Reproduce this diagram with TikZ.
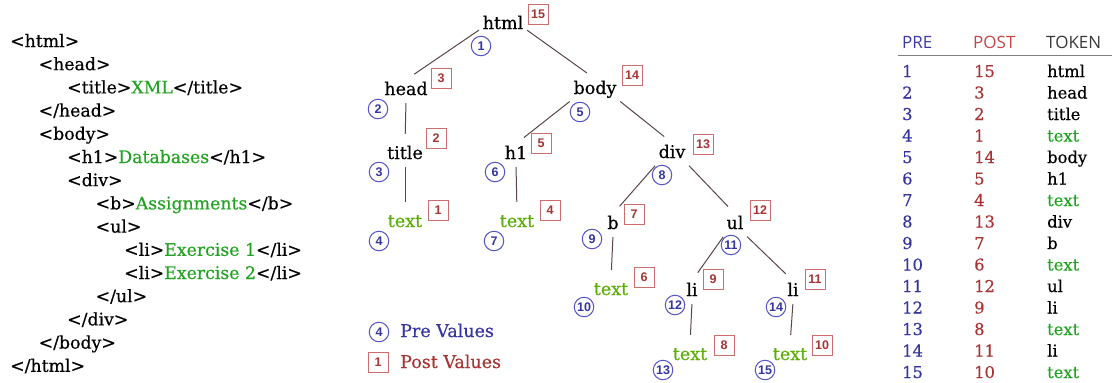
\documentclass[tikz,border=0pt]{standalone}
\usepackage{fontspec}
\setmainfont{DejaVu Serif}[FakeBold=0.4]
\setsansfont{Open Sans}
\newfontfamily\numfont{Liberation Sans}
\definecolor{preblue}{HTML}{3535A0}
\definecolor{prering}{HTML}{5555C8}
\definecolor{postred}{HTML}{A83434}
\definecolor{postline}{HTML}{CC6E6E}
\definecolor{codegreen}{HTML}{22A322}
\definecolor{treegreen}{HTML}{5DAE05}
\definecolor{edgecol}{HTML}{5A4646}
\definecolor{hdrblue}{HTML}{3C3CA8}
\definecolor{hdrred}{HTML}{C24848}
\definecolor{hdrgrey}{HTML}{3A3A3A}
\begin{document}
\begin{tikzpicture}[x=1pt,y=-1pt,
  code/.style={font=\fontsize{17.3}{17.3}\selectfont, inner sep=0pt, anchor=base west},
  tn/.style={font=\fontsize{17.5}{17.5}\selectfont, text height=13pt, text depth=4pt, inner sep=2pt, anchor=base},
  tgreen/.style={tn, text=treegreen},
  prec/.style={circle, draw=prering, line width=1pt, minimum size=19.5pt, inner sep=0pt,
    font=\numfont\bfseries\fontsize{12.5}{12.5}\selectfont, text=preblue},
  postb/.style={rectangle, draw=postline, line width=1pt, minimum size=20pt, inner sep=0pt,
    font=\numfont\bfseries\fontsize{12.5}{12.5}\selectfont, text=postred},
  link/.style={draw=edgecol, line width=1pt, shorten <=2pt, shorten >=10pt},
  tab/.style={font=\fontsize{16.3}{16.3}\selectfont, inner sep=0pt, anchor=base west},
  hdr/.style={font=\sffamily\fontsize{17}{17}\selectfont, inner sep=0pt, anchor=base west},
  leg/.style={font=\fontsize{17.5}{17.5}\selectfont, inner sep=0pt, anchor=base west}
]
\useasboundingbox[fill=white] (0,0) rectangle (1112,383);

% ---------- HTML code ----------
\node[code] (c1)  at (10,47)    {<html>};
\node[code] (c2)  at (38.5,70.2)  {<head>};
\node[code] (c3)  at (67,93.4)  {<title>\textcolor{codegreen}{XML}</title>};
\node[code] (c4)  at (38.5,116.6) {</head>};
\node[code] (c5)  at (38.5,139.8) {<body>};
\node[code] (c6)  at (67,163)   {<h1>\textcolor{codegreen}{Databases}</h1>};
\node[code] (c7)  at (67,186.2) {<div>};
\node[code] (c8)  at (95.5,209.4) {<b>\textcolor{codegreen}{Assignments}</b>};
\node[code] (c9)  at (95.5,232.6) {<ul>};
\node[code] (c10) at (124,255.8) {<li>\textcolor{codegreen}{Exercise 1}</li>};
\node[code] (c11) at (124,279)   {<li>\textcolor{codegreen}{Exercise 2}</li>};
\node[code] (c12) at (95.5,302.2) {</ul>};
\node[code] (c13) at (67,325.4) {</div>};
\node[code] (c14) at (38.5,348.6) {</body>};
\node[code] (c15) at (10,371.8)  {</html>};

% ---------- tree ----------
\node[tn] (html)  at (503,29)  {html};
\node[tn] (head)  at (406,95)  {head};
\node[tn] (title) at (405,159) {title};
\node[tgreen] (t1) at (405,227) {text};
\node[tn] (body)  at (595,94)  {body};
\node[tn] (h1)    at (516,159) {h1};
\node[tgreen] (t2) at (517,227) {text};
\node[tn] (div)   at (672,158) {div};
\node[tn] (b)     at (613,229) {b};
\node[tgreen] (t3) at (611,295) {text};
\node[tn] (ul)    at (735,229) {ul};
\node[tn] (li1)   at (692,296) {li};
\node[tgreen] (t4) at (690,360) {text};
\node[tn] (li2)   at (793,296) {li};
\node[tgreen] (t5) at (790,360) {text};

\draw[link] (html.base west) -- (head.north);
\draw[link] (html.base east) -- (body.north);
\draw[link] (head.south) -- (title.north);
\draw[link] (title.south) -- (t1.north);
\draw[link] (body.south west) -- (h1.north);
\draw[link] (body.south east) -- (div.north);
\draw[link] (h1.south) -- (t2.north);
\draw[link] (div.south west) -- (b.north);
\draw[link] (div.south east) -- (ul.north);
\draw[link] (b.south) -- (t3.north);
\draw[link] (ul.south west) -- (li1.north);
\draw[link] (ul.south east) -- (li2.north);
\draw[link] (li1.south) -- (t4.north);
\draw[link] (li2.south) -- (t5.north);

% pre values
\node[prec] (p1)  at (481,46)  {1};
\node[prec] (p2)  at (378,109) {2};
\node[prec] (p3)  at (379,172) {3};
\node[prec] (p4)  at (379,241) {4};
\node[prec] (p5)  at (580,112) {5};
\node[prec] (p6)  at (495,172) {6};
\node[prec] (p7)  at (494,241) {7};
\node[prec] (p8)  at (662,175) {8};
\node[prec] (p9)  at (592,239) {9};
\node[prec] (p10) at (584,307) {10};
\node[prec] (p11) at (731,245) {11};
\node[prec] (p12) at (675,305) {12};
\node[prec] (p13) at (663,370) {13};
\node[prec] (p14) at (776,307) {14};
\node[prec] (p15) at (765,370) {15};

% post values
\node[postb] (q15) at (538,14)  {15};
\node[postb] (q3)  at (441,78)  {3};
\node[postb] (q2)  at (436,138) {2};
\node[postb] (q1)  at (438,210) {1};
\node[postb] (q14) at (632,75)  {14};
\node[postb] (q5)  at (541,143) {5};
\node[postb] (q4)  at (550,210) {4};
\node[postb] (q13) at (703,144) {13};
\node[postb] (q7)  at (634,214) {7};
\node[postb] (q6)  at (644,277) {6};
\node[postb] (q12) at (760,210) {12};
\node[postb] (q9)  at (713,279) {9};
\node[postb] (q8)  at (724,345) {8};
\node[postb] (q11) at (815,279) {11};
\node[postb] (q10) at (822,345) {10};

% legend
\node[prec] (lgc) at (379,332) {4};
\node[leg, text=preblue] (lgpre) at (400,337) {Pre Values};
\node[postb] (lgs) at (378,362) {1};
\node[leg, text=postred] (lgpost) at (400,368) {Post Values};

% ---------- table ----------
\node[hdr, text=hdrblue] (hpre) at (902,48) {PRE};
\node[hdr, text=hdrred] (hpost) at (973,48) {POST};
\node[hdr, text=hdrgrey] (htok) at (1046,48) {TOKEN};
\coordinate (rl) at (898,55);
\coordinate (rr) at (1112,55);
\draw[draw=gray, line width=1pt] (rl) -- (rr);
\foreach \pr/\po/\tk/\cl [count=\i] in {1/15/html/black, 2/3/head/black, 3/2/title/black,
  4/1/text/codegreen, 5/14/body/black, 6/5/h1/black, 7/4/text/codegreen, 8/13/div/black,
  9/7/b/black, 10/6/text/codegreen, 11/12/ul/black, 12/9/li/black, 13/8/text/codegreen,
  14/11/li/black, 15/10/text/codegreen}{
  \pgfmathsetmacro{\yy}{77+21.5*(\i-1)}
  \node[tab, text=preblue] (pre\i) at (902,\yy) {\pr};
  \node[tab, text=postred] (post\i) at (974,\yy) {\po};
  \node[tab, text=\cl] (tok\i) at (1047,\yy) {\tk};
}
\end{tikzpicture}
\end{document}
